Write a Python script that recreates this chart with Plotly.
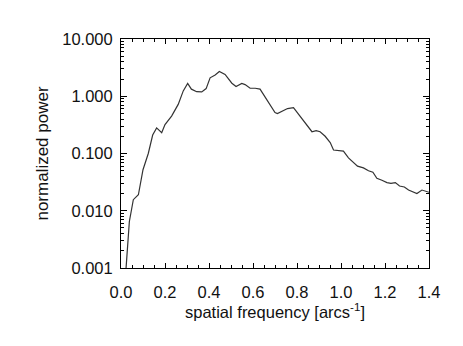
import plotly.graph_objects as go

# spatial frequency [1/arcsec] and normalized power
freq = [0.023, 0.038, 0.056, 0.079, 0.10, 0.124, 0.144, 0.162, 0.185, 0.20,
        0.23, 0.26, 0.283, 0.303, 0.32, 0.344, 0.367, 0.387, 0.405, 0.428,
        0.447, 0.473, 0.504, 0.523, 0.549, 0.564, 0.587, 0.61, 0.632, 0.65,
        0.678, 0.70, 0.711, 0.731, 0.757, 0.784, 0.807, 0.837, 0.868, 0.887,
        0.905, 0.928, 0.951, 0.966, 0.989, 1.011, 1.034, 1.057, 1.075, 1.102,
        1.125, 1.145, 1.163, 1.186, 1.209, 1.227, 1.247, 1.266, 1.288, 1.307,
        1.33, 1.345, 1.368, 1.39, 1.40]
power = [0.001, 0.0065, 0.0156, 0.019, 0.052, 0.10, 0.21, 0.28, 0.23, 0.32,
         0.45, 0.72, 1.24, 1.67, 1.33, 1.2, 1.19, 1.36, 2.1, 2.35,
         2.7, 2.4, 1.69, 1.48, 1.67, 1.6, 1.38, 1.38, 1.33, 1.04,
         0.68, 0.52, 0.50, 0.55, 0.61, 0.63, 0.48, 0.35, 0.24, 0.25,
         0.24, 0.20, 0.155, 0.115, 0.113, 0.11, 0.084, 0.069, 0.06, 0.056,
         0.05, 0.047, 0.037, 0.034, 0.031, 0.030, 0.031, 0.027, 0.026, 0.023,
         0.021, 0.020, 0.023, 0.022, 0.021]

x_ticks = [0.0, 0.2, 0.4, 0.6, 0.8, 1.0, 1.2, 1.4]
x_labels = ["0.0", "0.2", "0.4", "0.6", "0.8", "1.0", "1.2", "1.4"]
y_ticks = [0.001, 0.01, 0.1, 1, 10]
y_labels = ["0.001", "0.010", "0.100", "1.000", "10.000"]
y_minor = [m * 10 ** e for e in range(-3, 1) for m in range(2, 10)]

fig = go.Figure()
fig.add_trace(go.Scatter(x=freq, y=power, mode="lines",
                         line=dict(color="#333333", width=1.2)))

axis_common = dict(
    showline=True, linecolor="black", linewidth=1, mirror="allticks",
    ticks="inside", tickcolor="black", showgrid=False, zeroline=False,
    automargin=False,
    tickfont=dict(family="Liberation Sans", size=16.5, color="#111111"),
)

# the page body adds an 8px offset, so margins are trimmed by that much
fig.update_layout(
    width=463, height=346,
    margin={"l": 113, "r": 42, "t": 31, "b": 86},
    plot_bgcolor="white", paper_bgcolor="white",
    showlegend=False,
    font=dict(family="Liberation Sans", size=16.5, color="#111111"),
    xaxis=dict(
        range=[0, 1.4], tickvals=x_ticks, ticktext=x_labels, ticklen=5,
        ticklabelstandoff=9,
        minor=dict(dtick=0.05, tick0=0, ticks="inside", ticklen=3, tickcolor="black"),
        title=dict(text="spatial frequency [arcs<sup>-1</sup>]", standoff=1,
                   font=dict(size=16.5)),
        **axis_common,
    ),
    yaxis=dict(
        type="log", range=[-3, 1], tickvals=y_ticks, ticktext=y_labels, ticklen=6,
        ticklabelstandoff=4,
        minor=dict(tickvals=y_minor, ticks="inside", ticklen=3, tickcolor="black"),
        title=dict(text="normalized power", standoff=9, font=dict(size=17)),
        **axis_common,
    ),
)

fig.write_html("out.html")
